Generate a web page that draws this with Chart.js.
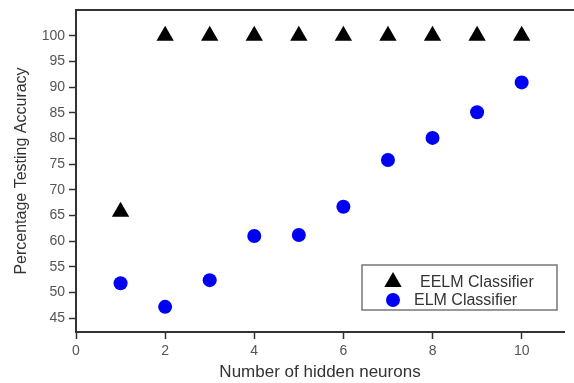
<!DOCTYPE html>
<html>
<head>
<meta charset="UTF-8">
<script src="https://cdn.jsdelivr.net/npm/chart.js@4.4.0/dist/chart.umd.min.js"></script>
<style>
  html, body { margin: 0; padding: 0; background: #fff; }
  #wrap { width: 574px; height: 383px; }
</style>
</head>
<body>
<div id="wrap"><canvas id="c" width="574" height="383"></canvas></div>
<script>
// ── data ──
const neurons = [1, 2, 3, 4, 5, 6, 7, 8, 9, 10]
const eelmAcc = [65.7, 100, 100, 100, 100, 100, 100, 100, 100, 100]
const elmAcc  = [51.8, 47.2, 52.4, 61.0, 61.2, 66.7, 75.8, 80.1, 85.1, 90.9]
const yTicks  = [45, 50, 55, 60, 65, 70, 75, 80, 85, 90, 95, 100]
const xTicks  = [0, 2, 4, 6, 8, 10]

const AXIS = '#333'
const FONT = "Arial, 'Liberation Sans', sans-serif"

const pts = ys => neurons.map((x, i) => ({ x, y: ys[i] }))

// top frame line + in-plot legend box
const framePlugin = {
  id: 'frame',
  afterDraw(chart) {
    const { ctx, chartArea: a } = chart
    ctx.save()
    ctx.strokeStyle = AXIS
    ctx.lineWidth = 2
    ctx.beginPath()
    ctx.moveTo(a.left, a.top)
    ctx.lineTo(chart.width, a.top)
    ctx.stroke()

    // legend
    const bx = 362, by = 265, bw = 195, bh = 45
    ctx.fillStyle = '#fff'
    ctx.fillRect(bx, by, bw, bh)
    ctx.strokeStyle = '#777'
    ctx.lineWidth = 1.5
    ctx.strokeRect(bx, by, bw, bh)
    ctx.font = `16px ${FONT}`
    ctx.textBaseline = 'middle'
    const ds = chart.data.datasets
    const rows = [{ d: ds[0], mx: 393, my: 282, tx: 420 }, { d: ds[1], mx: 393, my: 300, tx: 414 }]
    for (const r of rows) {
      ctx.fillStyle = r.d.backgroundColor
      ctx.strokeStyle = r.d.backgroundColor
      Chart.helpers.drawPoint(ctx, {
        pointStyle: r.d.pointStyle, radius: r.d.pointRadius, rotation: 0, borderWidth: 0
      }, r.mx, r.my)
      ctx.fillStyle = '#333'
      ctx.fillText(r.d.label, r.tx, r.my + 1)
    }
    ctx.restore()
  }
}

const keepTicks = list => s => { s.ticks = list.map(v => ({ value: v })) }

new Chart(document.getElementById('c'), {
  type: 'scatter',
  data: {
    datasets: [
      { label: 'EELM Classifier', data: pts(eelmAcc), pointStyle: 'triangle',
        pointRadius: 10, backgroundColor: '#000', borderColor: '#000', borderWidth: 0 },
      { label: 'ELM Classifier', data: pts(elmAcc), pointStyle: 'circle',
        pointRadius: 7, backgroundColor: '#0000f5', borderColor: '#0000f5', borderWidth: 0 },
    ]
  },
  options: {
    responsive: false, animation: false,
    layout: { padding: { top: 8, right: 0, left: 0, bottom: 0 } },
    plugins: { legend: { display: false }, tooltip: { enabled: false } },
    scales: {
      x: {
        type: 'linear', min: 0, max: 10.95,
        afterFit: s => { s.height = 51; s.paddingLeft = 0; s.paddingRight = 0 },
        afterBuildTicks: keepTicks(xTicks),
        border: { display: true, color: AXIS, width: 2 },
        grid: { drawOnChartArea: false, tickLength: 7, tickColor: AXIS, tickWidth: 1.5 },
        ticks: { padding: 4, color: '#555', font: { family: FONT, size: 14 } },
        title: { display: true, text: 'Number of hidden neurons', color: '#333',
                 font: { family: FONT, size: 17 }, padding: { top: 2, bottom: 0 } }
      },
      y: {
        min: 42.3, max: 105,
        afterFit: s => { s.width = 76; s.paddingTop = 0; s.paddingBottom = 0 },
        afterBuildTicks: keepTicks(yTicks),
        border: { display: true, color: AXIS, width: 2 },
        grid: { drawOnChartArea: false, tickLength: 7, tickColor: AXIS, tickWidth: 1.5 },
        ticks: { padding: 4, color: '#555', font: { family: FONT, size: 14 } },
        title: { display: true, text: 'Percentage Testing Accuracy', color: '#333',
                 font: { family: FONT, size: 16 }, padding: { top: 12, bottom: 4 } }
      }
    }
  },
  plugins: [framePlugin]
})
</script>
</body>
</html>
